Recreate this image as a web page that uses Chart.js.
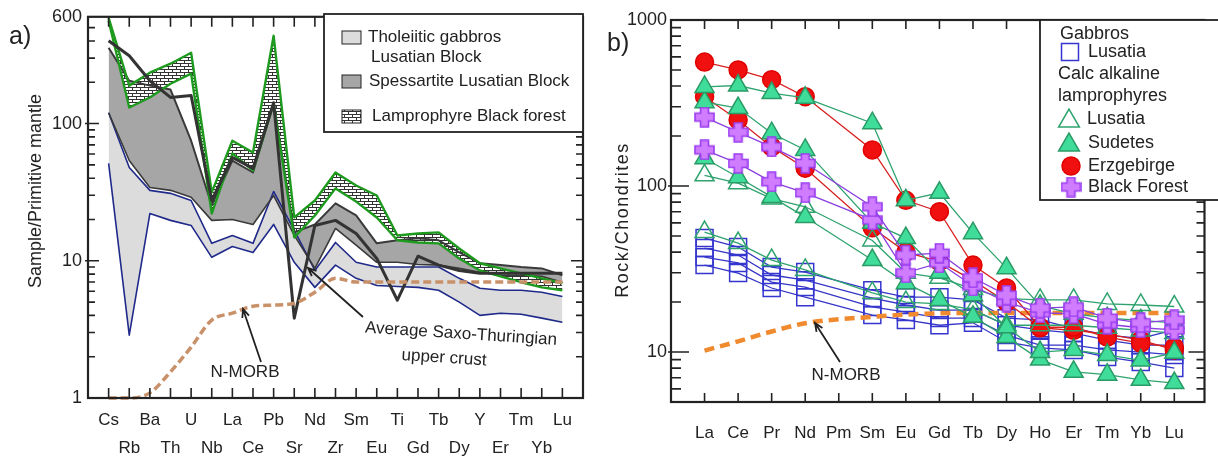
<!DOCTYPE html>
<html>
<head>
<meta charset="utf-8">
<script src="https://cdn.jsdelivr.net/npm/chart.js@4.4.1/dist/chart.umd.min.js"></script>
<style>
html, body { margin: 0; padding: 0; background: #fff; }
#wrap { position: relative; width: 1218px; height: 459px; overflow: hidden; }
#left { position: absolute; left: 0; top: 0; }
#right { position: absolute; left: 600px; top: 0; }
</style>
</head>
<body>
<div id="wrap">
  <canvas id="left" width="600" height="459" style="width:600px;height:459px"></canvas>
  <canvas id="right" width="618" height="459" style="width:618px;height:459px"></canvas>
</div>
<script>
// ---- a) spider diagram, normalised to primitive mantle ----
const spiderElements = ['Cs','Rb','Ba','Th','U','Nb','La','Ce','Pb','Sr','Nd','Zr','Sm','Eu','Ti','Gd','Tb','Dy','Y','Er','Tm','Yb','Lu'];
const leftTicks = [1, 10, 100, 600];

// tholeiitic gabbros Lusatian Block (field limits)
const gabbroUpper = [120, 47.9, 32.6, 31, 27.5, 13.4, 15.3, 13.4, 32, 16.7, 8.5, 13.6, 9.75, 9.0, 9.0, 9.0, 9.0, 7.45, 6.3, 6.1, 6.1, 5.9, 5.5];
const gabbroLower = [51.2, 2.87, 22.1, 19.7, 18.1, 10.6, 12.7, 11.5, 18.4, 9.75, 6.4, 9.3, 7.45, 6.6, 6.5, 6.4, 6.1, 5.0, 4.0, 4.15, 4.08, 3.82, 3.57];
// spessartite Lusatian Block (field limits)
const spessUpper = [357, 205, 189, 177, 75, 25.3, 53.8, 44, 142, 16.1, 18.4, 26.2, 21.4, 13.4, 14.1, 14.6, 14.1, 11.5, 9.6, 9.3, 9.0, 8.8, 7.85];
const spessLower = [120, 53.8, 34.2, 32.6, 29, 19.7, 20, 18.4, 29.9, 15.3, 8.8, 17.2, 13, 9.75, 9.75, 9.4, 9.3, 8.8, 8.25, 7.85, 7.85, 7.7, 6.98];
// lamprophyre Black forest (field limits)
const lampUpper = [590, 189, 235, 273, 328, 31.5, 75, 61.5, 436, 20.7, 27.5, 44, 35.4, 29.9, 15.3, 15.8, 16.1, 12.3, 9.6, 8.8, 8.1, 7.45, 6.86];
const lampLower = [561, 131, 155, 195, 231, 22.1, 60.5, 45.5, 140, 14.8, 21.4, 33.7, 27, 20.7, 14.1, 13.6, 13.4, 10.4, 8.5, 7.7, 6.98, 6.4, 6.1];
// thick dark line (average upper crust)
const crustLine = [402, 312, 205, 155, 160, 27.5, 56.6, 47.1, 142, 3.82, 18.1, 19.7, 15.8, 10.4, 5.16, 10.8, 9.3, 8.5, 8.1, 8.1, 8.1, 8.1, 8.1];
const nmorbSpider = [1.0, 1.0, 1.09, 1.55, 2.35, 3.7, 4.15, 4.67, 4.75, 4.9, 5.9, 7.45, 7.0, 7.0, 7.0, 7.0, 7.0, 7.0, 7.0, 7.0, 7.0, 7.0, 7.0];

// ---- b) REE, normalised to chondrites ----
const reeElements = ['La','Ce','Pr','Nd','Pm','Sm','Eu','Gd','Tb','Dy','Ho','Er','Tm','Yb','Lu'];
const rightTicks = [10, 100, 1000];

const gabbro1 = [48.6, 42.9, 32.5, 30.3, null, 23.6, 21.4, 21.4, 20.6, 16.0, 15.6, 13.9, 12.65, 12.1, 13.6];
const gabbro2 = [42.3, 38.4, 29.1, 27.1, null, 21.1, 19.2, 17.9, 17.9, 14.5, 13.6, 13.0, 11.8, 11.0, 11.0];
const gabbro3 = [37.3, 34.4, 26.4, 24.6, null, 18.7, 17.4, 16.0, 16.0, 12.65, 11.0, 11.0, 10.3, 10.0, 9.6];
const gabbro4 = [33.4, 29.9, 24.3, 21.4, null, 16.7, 15.6, 14.5, 15.0, 11.5, 10.6, 10.3, 9.33, 8.7, 8.0];
const lusatia1 = [116, 104, 84, 75, null, 47, 30, 28, 24, 21, 20.6, 20.6, 19.5, 19.2, 18.8];
const lusatia2 = [52.8, 45.3, 35.8, 31.2, null, 22.7, 20, 19.5, 18, 14.5, 14.5, 14.5, 14, 13.5, 13];
const sudetes1 = [395, 403, 363, 340, null, 239, 82, 91, 52, 32, 19, 17, 16, 15.5, 15];
const sudetes2 = [320, 295, 208, 165, null, 60, 48.6, 30, 22, 14.1, 10, 10.3, 9.6, 8.9, 9.9];
const sudetes3 = [147, 113, 86, 65, null, 35.8, 26, 20.6, 16.3, 12.3, 9, 7.6, 7.3, 6.8, 6.5];
const erz1 = [558, 500, 437, 345, null, 165, 82, 70, 33.4, 24.3, 14.1, 14.1, 12.3, 11.3, 10.7];
const erz2 = [345, 250, 172, 128, null, 56, 40, 35, 27, 20, 14, 13.5, 12.8, 11.8, 10.3];
const blackForest1 = [260, 211, 172, 137, null, 75, 38.4, 39.4, 28, 22, 18.4, 18.7, 16, 15, 15.6];
const blackForest2 = [165, 137, 106, 91, null, 62.5, 30, 34.4, 25, 20, 17.2, 17, 14.7, 14, 13.6];
const nmorbRee = [10.2, 11.6, 13.3, 14.9, null, 16.3, 16.8, 17.1, 17.2, 17.2, 17.2, 17.2, 17.2, 17.2, 17.2];

const FONT = '"Liberation Sans", Arial, sans-serif';
const INK = '#222';
Chart.defaults.font.family = FONT;
Chart.defaults.color = INK;

// minor log ticks 2..9 of every decade inside [lo, hi]
function minorTicks(lo, hi) {
  const out = [];
  for (let d = 1; d <= 1000; d *= 10) {
    for (let k = 2; k <= 9; k++) {
      const v = k * d;
      if (v > lo && v < hi && v !== 10 && v !== 100) out.push(v);
    }
  }
  return out;
}

// brick hatch for the Black forest field
function brickPattern() {
  const c = document.createElement('canvas');
  c.width = 8; c.height = 6;
  const g = c.getContext('2d');
  g.fillStyle = '#fff'; g.fillRect(0, 0, 8, 6);
  g.fillStyle = '#333';
  g.fillRect(0, 0, 8, 1); g.fillRect(0, 3, 8, 1);
  g.fillRect(0, 0, 1, 3); g.fillRect(4, 3, 1, 3);
  return g.createPattern(c, 'repeat');
}

// fat purple cross marker
function crossMarker(size) {
  const c = document.createElement('canvas');
  c.width = size; c.height = size;
  const g = c.getContext('2d');
  const t = size * 0.38, m = (size - t) / 2, e = size - 1;
  g.beginPath();
  g.moveTo(m, 1); g.lineTo(m + t, 1); g.lineTo(m + t, m); g.lineTo(e, m); g.lineTo(e, m + t);
  g.lineTo(m + t, m + t); g.lineTo(m + t, e); g.lineTo(m, e); g.lineTo(m, m + t); g.lineTo(1, m + t);
  g.lineTo(1, m); g.lineTo(m, m); g.closePath();
  g.fillStyle = '#cf7cff'; g.fill();
  g.strokeStyle = '#9a3cf0'; g.lineWidth = 1.6; g.stroke();
  return c;
}

// frame + inward tick marks on all four sides
function frameTicks(o) {
  return {
    id: 'frameTicks',
    afterDraw(chart) {
      const {ctx, chartArea: a} = chart;
      const xs = chart.scales.x, ys = chart.scales.y;
      ctx.save();
      ctx.strokeStyle = INK;
      ctx.lineWidth = 1.6;
      ctx.beginPath();
      xs.ticks.forEach(t => {
        const px = xs.getPixelForValue(t.value);
        ctx.moveTo(px, a.bottom); ctx.lineTo(px, a.bottom - o.xLen);
        ctx.moveTo(px, a.top); ctx.lineTo(px, a.top + o.xLen);
      });
      o.minor.forEach(v => {
        const py = ys.getPixelForValue(v);
        ctx.moveTo(a.left, py); ctx.lineTo(a.left + o.minorL, py);
        ctx.moveTo(a.right, py); ctx.lineTo(a.right - o.minorR, py);
      });
      o.major.forEach(v => {
        const py = ys.getPixelForValue(v);
        ctx.moveTo(a.left - 3, py); ctx.lineTo(a.left + o.majorL, py);
        ctx.moveTo(a.right, py); ctx.lineTo(a.right - o.majorR, py);
      });
      ctx.stroke();
      ctx.lineWidth = 2.2;
      ctx.strokeRect(a.left, a.top, a.right - a.left, a.bottom - a.top);
      ctx.restore();
    }
  };
}

function text(ctx, s, x, y, size, align, rot, spacing) {
  ctx.save();
  ctx.translate(x, y);
  if (rot) ctx.rotate(rot);
  ctx.font = size + 'px ' + FONT;
  if (spacing) ctx.letterSpacing = spacing;
  ctx.fillStyle = INK;
  ctx.textAlign = align || 'left';
  ctx.textBaseline = 'middle';
  ctx.fillText(s, 0, 0);
  ctx.restore();
}

function arrow(ctx, x1, y1, x2, y2) {
  const ang = Math.atan2(y2 - y1, x2 - x1), h = 9;
  ctx.save();
  ctx.strokeStyle = INK; ctx.lineWidth = 1.8;
  ctx.beginPath();
  ctx.moveTo(x1, y1); ctx.lineTo(x2, y2);
  ctx.moveTo(x2 - h * Math.cos(ang - 0.4), y2 - h * Math.sin(ang - 0.4));
  ctx.lineTo(x2, y2);
  ctx.lineTo(x2 - h * Math.cos(ang + 0.4), y2 - h * Math.sin(ang + 0.4));
  ctx.stroke();
  ctx.restore();
}

const brick = brickPattern();
const cross = crossMarker(21);

// ================= left chart =================
function spiderSet(values, style) {
  return Object.assign({
    data: values.map((v, i) => ({x: i, y: v})),
    pointRadius: 0, tension: 0, fill: false, borderJoinStyle: 'round'
  }, style);
}
const navy = '#1f2a8a';
const green = '#1e9b1e';

const leftOverlay = {
  id: 'leftOverlay',
  afterDraw(chart) {
    const ctx = chart.ctx;
    // legend
    ctx.save();
    ctx.fillStyle = '#fff';
    ctx.fillRect(324, 14, 259, 118);
    ctx.strokeStyle = INK; ctx.lineWidth = 1.8;
    ctx.strokeRect(324, 14, 259, 118);
    ctx.lineWidth = 1;
    ctx.fillStyle = '#dcdcdc'; ctx.fillRect(342, 31, 19, 13); ctx.strokeRect(342, 31, 19, 13);
    ctx.fillStyle = '#a6a6a6'; ctx.fillRect(342, 75, 19, 13); ctx.strokeRect(342, 75, 19, 13);
    ctx.fillStyle = brick; ctx.fillRect(342, 110, 19, 13); ctx.strokeRect(342, 110, 19, 13);
    ctx.restore();
    text(ctx, 'Tholeiitic gabbros', 368, 37, 17);
    text(ctx, 'Lusatian Block', 371, 57, 17);
    text(ctx, 'Spessartite Lusatian Block', 369, 81, 17);
    text(ctx, 'Lamprophyre Black forest', 372, 116, 17);
    // labels
    text(ctx, 'a)', 9, 37, 25);
    text(ctx, 'Sample/Primitive mantle', 36, 191, 18, 'center', -Math.PI / 2);
    text(ctx, 'N-MORB', 245, 372, 17, 'center');
    arrow(ctx, 261, 362, 243, 309);
    text(ctx, 'Average Saxo-Thuringian', 461, 334, 17, 'center', 0.065);
    text(ctx, 'upper crust', 444, 358, 17, 'center', 0.065);
    arrow(ctx, 363, 317, 308, 268);
  }
};

new Chart(document.getElementById('left'), {
  type: 'line',
  data: {
    datasets: [
      spiderSet(gabbroUpper, {borderColor: navy, borderWidth: 1.6, fill: '+1', backgroundColor: '#dcdcdc', order: 5}),
      spiderSet(gabbroLower, {borderColor: navy, borderWidth: 1.6, order: 5}),
      spiderSet(spessUpper, {borderColor: '#3a3a3a', borderWidth: 2, fill: '+1', backgroundColor: '#a6a6a6', order: 4}),
      spiderSet(spessLower, {borderColor: '#3a3a3a', borderWidth: 1.6, order: 4}),
      spiderSet(lampUpper, {borderColor: green, borderWidth: 2.4, fill: '+1', backgroundColor: brick, order: 3}),
      spiderSet(lampLower, {borderColor: green, borderWidth: 2.4, order: 3}),
      spiderSet(crustLine, {borderColor: '#333', borderWidth: 3, order: 2}),
      spiderSet(nmorbSpider, {borderColor: '#c8916a', borderWidth: 3.5, borderDash: [8, 4], cubicInterpolationMode: 'monotone', clip: false, order: 1})
    ]
  },
  options: {
    responsive: false,
    animation: false,
    devicePixelRatio: 1,
    layout: {padding: {left: 0, right: 17, top: 14, bottom: 0}},
    plugins: {
      legend: {display: false},
      tooltip: {enabled: false},
      filler: {drawTime: 'beforeDatasetsDraw'}
    },
    scales: {
      x: {
        type: 'linear', min: -1, max: 23,
        afterBuildTicks: s => { s.ticks = spiderElements.map((_, i) => ({value: i})); },
        afterFit: s => { s.height = 61; },
        grid: {display: false, drawTicks: false},
        border: {display: false},
        ticks: {
          autoSkip: false, maxRotation: 0, padding: 8,
          font: {size: 17, lineHeight: 1.65},
          callback: v => (v % 2 === 0 ? spiderElements[v] : ['', spiderElements[v]])
        }
      },
      y: {
        type: 'logarithmic', min: 1, max: 600,
        afterBuildTicks: s => { s.ticks = leftTicks.map(v => ({value: v})); },
        afterFit: s => { s.width = 88; },
        grid: {display: false, drawTicks: false},
        border: {display: false},
        ticks: {padding: 6, font: {size: 18}, callback: v => String(v)}
      }
    }
  },
  plugins: [frameTicks({xLen: 10, minor: minorTicks(1, 600), major: [10, 100], minorL: 7, minorR: 7, majorL: 11, majorR: 12}), leftOverlay]
});

// ================= right chart =================
function reeSet(values, style) {
  return Object.assign({
    data: values.map((v, i) => ({x: i, y: v})).filter(p => p.y !== null),
    tension: 0, fill: false, borderWidth: 1.3, pointBorderWidth: 1.5
  }, style);
}
const gabbroStyle = {borderColor: '#3535c8', pointStyle: 'rect', pointRadius: 12, pointBorderColor: '#3535d0', pointBackgroundColor: 'rgba(0,0,0,0)', order: 6};
const lusatiaStyle = {borderColor: '#2ea36e', pointStyle: 'triangle', pointRadius: 11, pointBorderColor: '#2ea36e', pointBackgroundColor: 'rgba(255,255,255,0)', order: 3};
const sudetesStyle = {borderColor: '#2ea36e', pointStyle: 'triangle', pointRadius: 11, pointBorderColor: '#2a9a66', pointBackgroundColor: '#3fdc9a', order: 2};
const erzStyle = {borderColor: '#d82020', pointStyle: 'circle', pointRadius: 9, pointBorderColor: '#e00000', pointBackgroundColor: '#f01010', order: 4};
const bfStyle = {borderColor: '#8a3fe0', pointStyle: cross, pointRadius: 10, order: 1};

const rightOverlay = {
  id: 'rightOverlay',
  afterDraw(chart) {
    const ctx = chart.ctx;
    const dp = Chart.helpers.drawPoint;
    ctx.save();
    ctx.fillStyle = '#fff';
    ctx.fillRect(440, 20, 180, 180);
    ctx.strokeStyle = INK; ctx.lineWidth = 1.8;
    ctx.strokeRect(440, 20, 180, 180);
    // markers
    ctx.lineWidth = 1.5;
    ctx.strokeStyle = '#3535d0'; ctx.fillStyle = 'rgba(0,0,0,0)';
    dp(ctx, {pointStyle: 'rect', radius: 12, rotation: 0, borderWidth: 1.5}, 470, 52);
    ctx.strokeStyle = '#2ea36e'; ctx.fillStyle = 'rgba(255,255,255,0)';
    dp(ctx, {pointStyle: 'triangle', radius: 12, rotation: 0, borderWidth: 1.5}, 469, 121);
    ctx.strokeStyle = '#2a9a66'; ctx.fillStyle = '#3fdc9a';
    dp(ctx, {pointStyle: 'triangle', radius: 12, rotation: 0, borderWidth: 1.5}, 469, 145);
    ctx.strokeStyle = '#e00000'; ctx.fillStyle = '#f01010';
    dp(ctx, {pointStyle: 'circle', radius: 9, rotation: 0, borderWidth: 1}, 471, 166);
    dp(ctx, {pointStyle: cross, radius: 10, rotation: 0, borderWidth: 0}, 471, 187);
    ctx.restore();
    text(ctx, 'Gabbros', 460, 34, 18);
    text(ctx, 'Lusatia', 488, 52, 18);
    text(ctx, 'Calc alkaline', 458, 74, 18);
    text(ctx, 'lamprophyres', 458, 96, 18);
    text(ctx, 'Lusatia', 487, 119, 18);
    text(ctx, 'Sudetes', 488, 143, 18);
    text(ctx, 'Erzgebirge', 488, 166, 18);
    text(ctx, 'Black Forest', 488, 187, 18);
    text(ctx, 'b)', 7, 44, 25);
    text(ctx, 'Rock/Chondrites', 23, 220, 18, 'center', -Math.PI / 2, '1.5px');
    text(ctx, 'N-MORB', 246, 375, 17, 'center');
    arrow(ctx, 240, 362, 215, 323);
  }
};

new Chart(document.getElementById('right'), {
  type: 'line',
  data: {
    datasets: [
      reeSet(gabbro1, gabbroStyle), reeSet(gabbro2, gabbroStyle), reeSet(gabbro3, gabbroStyle), reeSet(gabbro4, gabbroStyle),
      reeSet(nmorbRee, {borderColor: '#ef8a2e', borderWidth: 4.5, borderDash: [10, 6], pointRadius: 0, cubicInterpolationMode: 'monotone', order: 5}),
      reeSet(erz1, erzStyle), reeSet(erz2, erzStyle),
      reeSet(lusatia1, lusatiaStyle), reeSet(lusatia2, lusatiaStyle),
      reeSet(sudetes1, sudetesStyle), reeSet(sudetes2, sudetesStyle), reeSet(sudetes3, sudetesStyle),
      reeSet(blackForest1, bfStyle), reeSet(blackForest2, bfStyle)
    ]
  },
  options: {
    responsive: false,
    animation: false,
    devicePixelRatio: 1,
    layout: {padding: {left: 0, right: 2, top: 20, bottom: 0}},
    plugins: {legend: {display: false}, tooltip: {enabled: false}},
    scales: {
      x: {
        type: 'linear', min: -1, max: 14.9,
        afterBuildTicks: s => { s.ticks = reeElements.map((_, i) => ({value: i})); },
        afterFit: s => { s.height = 57; },
        grid: {display: false, drawTicks: false},
        border: {display: false},
        ticks: {autoSkip: false, maxRotation: 0, padding: 21, font: {size: 17}, callback: v => reeElements[v]}
      },
      y: {
        type: 'logarithmic', min: 5, max: 1000,
        afterBuildTicks: s => { s.ticks = rightTicks.map(v => ({value: v})); },
        afterFit: s => { s.width = 71; },
        grid: {display: false, drawTicks: false},
        border: {display: false},
        ticks: {padding: 4, font: {size: 18}, callback: v => String(v)}
      }
    }
  },
  plugins: [frameTicks({xLen: 9, minor: minorTicks(5, 1000), major: [10, 100], minorL: 10, minorR: 8, majorL: 18, majorR: 16}), rightOverlay]
});
</script>
</body>
</html>
